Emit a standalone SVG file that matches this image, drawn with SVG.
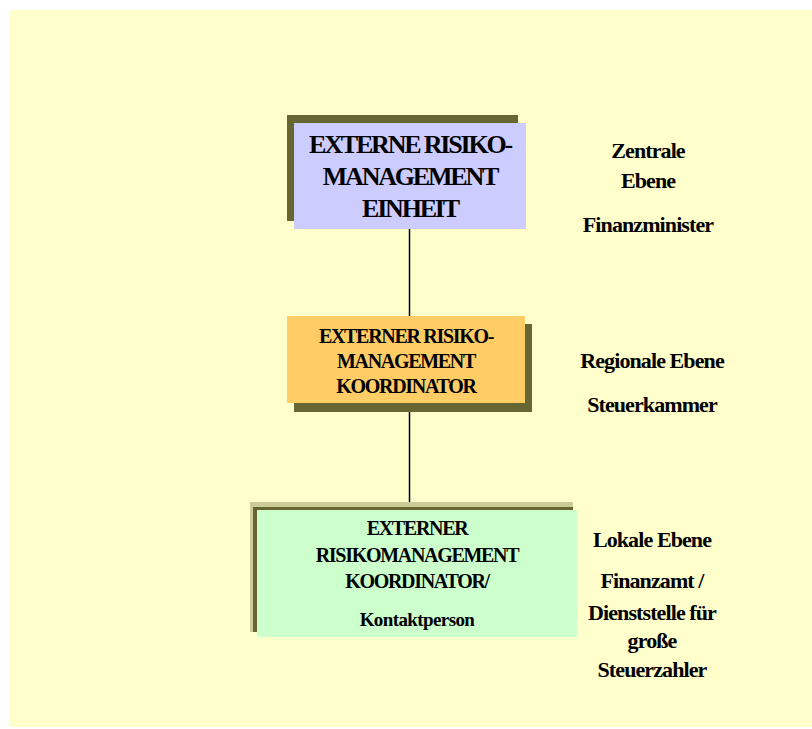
<svg xmlns="http://www.w3.org/2000/svg" width="812" height="729" viewBox="0 0 812 729">
<style>
text{font-family:"Liberation Serif","Times New Roman",serif;font-weight:bold;fill:#000;text-anchor:middle}
.t1{font-size:26px;letter-spacing:-2.2px}
.t2{font-size:20px;letter-spacing:-1.3px}
.t3{font-size:20px;letter-spacing:-1.3px}
.t3s{font-size:19px;letter-spacing:-0.6px}
.lbl{font-size:22px;letter-spacing:-0.9px}
.sh{fill:#666633}
.conn{stroke:#000;stroke-width:1.5;fill:none}
</style>
<rect x="0" y="0" width="812" height="729" fill="#ffffff"/>
<rect x="9" y="10" width="803" height="717" fill="#ffffcc"/>
<g id="connectors">
<line class="conn" x1="409.5" y1="227" x2="409.5" y2="316"/>
<line class="conn" x1="409.5" y1="412" x2="409.5" y2="511"/>
</g>
<g id="node-einheit">
<rect class="sh" x="287" y="115" width="231" height="106"/>
<rect x="294" y="123" width="232" height="106" fill="#ccccff"/>
<text class="t1" x="410" y="153">EXTERNE RISIKO-</text>
<text class="t1" x="410" y="185">MANAGEMENT</text>
<text class="t1" x="410" y="217">EINHEIT</text>
</g>
<g id="node-regional">
<rect class="sh" x="294" y="324" width="238" height="88"/>
<rect x="287" y="316" width="238" height="87" fill="#ffcc66"/>
<text class="t2" x="406" y="343">EXTERNER RISIKO-</text>
<text class="t2" x="406" y="368">MANAGEMENT</text>
<text class="t2" x="406" y="393">KOORDINATOR</text>
</g>
<g id="node-lokal">
<rect x="250" y="502" width="323" height="130" fill="#cccc99"/>
<rect class="sh" x="253" y="507" width="320" height="125"/>
<rect x="257" y="510" width="320" height="127" fill="#ccffcc"/>
<text class="t3" x="417" y="535">EXTERNER</text>
<text class="t3" x="417" y="562">RISIKOMANAGEMENT</text>
<text class="t3" x="417" y="588">KOORDINATOR/</text>
<text class="t3s" x="417" y="626">Kontaktperson</text>
</g>
<g id="label-zentral">
<text class="lbl" x="648" y="158">Zentrale</text>
<text class="lbl" x="648" y="188">Ebene</text>
<text class="lbl" x="648" y="232">Finanzminister</text>
</g>
<g id="label-regional">
<text class="lbl" x="652" y="368">Regionale Ebene</text>
<text class="lbl" x="652" y="412">Steuerkammer</text>
</g>
<g id="label-lokal">
<text class="lbl" x="652" y="547">Lokale Ebene</text>
<text class="lbl" x="652" y="588">Finanzamt /</text>
<text class="lbl" x="652" y="620">Dienststelle für</text>
<text class="lbl" x="652" y="648">große</text>
<text class="lbl" x="652" y="677">Steuerzahler</text>
</g>
</svg>
